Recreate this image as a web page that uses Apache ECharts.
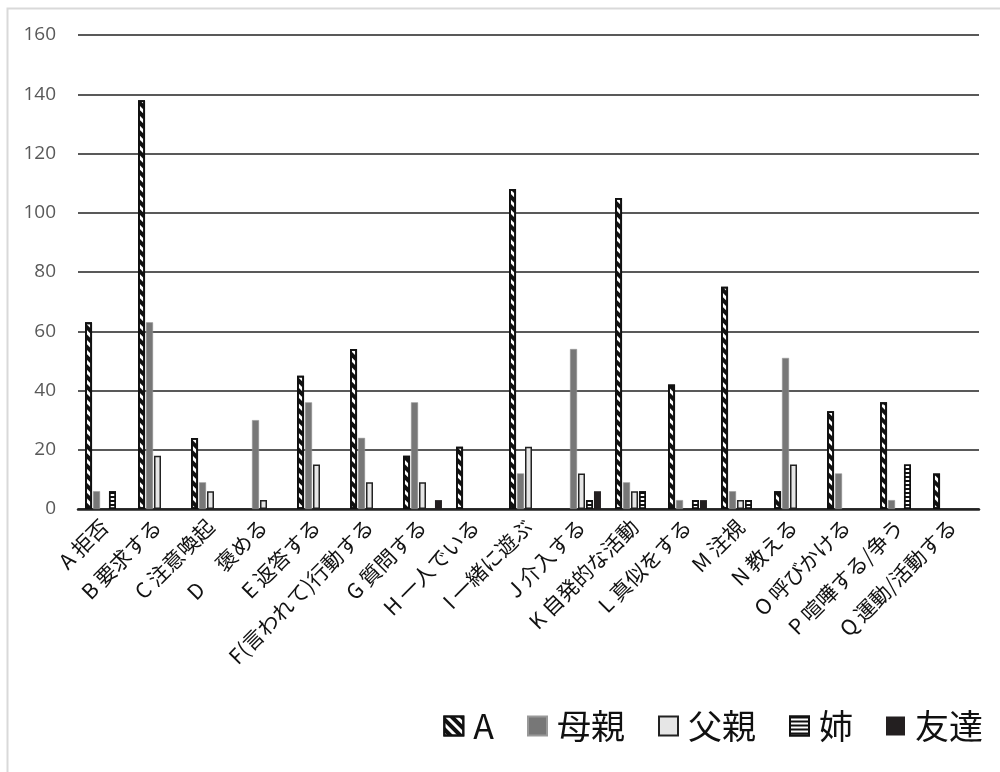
<!DOCTYPE html>
<html>
<head>
<meta charset="utf-8">
<script src="https://cdn.jsdelivr.net/npm/echarts@6/dist/echarts.min.js"></script>
<style>
  html, body { margin: 0; padding: 0; background: #fff; }
  #chart { width: 1000px; height: 772px; }
</style>
</head>
<body>
<div id="chart"></div>
<script>
// 行動カテゴリ
const categories = [
  'A 拒否', 'B 要求する', 'C 注意喚起', 'D　 褒める', 'E 返答する',
  'F(言われて)行動する', 'G 質問する', 'H 一人でいる', 'I 一緒に遊ぶ',
  'J 介入する', 'K 自発的な活動', 'L 真似をする', 'M 注視', 'N 教える',
  'O 呼びかける', 'P 喧嘩する/争う', 'Q 運動/活動する'
];

// 各人物の回数（0 は棒なし）
const aValues      = [63, 138, 24, 0, 45, 54, 18, 21, 108, 0, 105, 42, 75, 6, 33, 36, 12];
const motherValues = [6, 63, 9, 30, 36, 24, 36, 0, 12, 54, 9, 3, 6, 51, 12, 3, 0];
const fatherValues = [0, 18, 6, 3, 15, 9, 9, 0, 21, 12, 6, 0, 3, 15, 0, 0, 0];
const sisterValues = [6, 0, 0, 0, 0, 0, 0, 0, 0, 3, 6, 3, 3, 0, 0, 15, 0];
const friendValues = [0, 0, 0, 0, 0, 0, 3, 0, 0, 6, 0, 3, 0, 0, 0, 0, 0];

const yTicks = [0, 20, 40, 60, 80, 100, 120, 140, 160];

const seriesNames = ['A', '母親', '父親', '姉', '友達'];

const font = '"Noto Sans CJK JP", "Noto Sans", sans-serif';

function toBars (arr) {
  return arr.map(v => (v === 0 ? '-' : v));
}

const chart = echarts.init(document.getElementById('chart'));

chart.setOption({
  animation: false,
  backgroundColor: '#fff',
  graphic: [
    {
      type: 'rect',
      shape: { x: 7.5, y: 8.5, width: 1100, height: 900 },
      style: { fill: 'none', stroke: '#d9d9d9', lineWidth: 2 },
      silent: true
    }
  ],
  grid: { left: 78, right: 21, top: 35, bottom: 263 },
  legend: {
    right: 12,
    bottom: 24,
    icon: 'rect',
    itemWidth: 19,
    itemHeight: 19,
    itemGap: 33,
    textStyle: { fontSize: 34, color: '#111', fontFamily: font, padding: [0, 0, 0, 5] },
    data: seriesNames
  },
  xAxis: {
    type: 'category',
    data: categories,
    axisLine: { lineStyle: { color: '#222', width: 2.5 } },
    axisTick: { show: false },
    axisLabel: {
      interval: 0,
      rotate: 45,
      fontSize: 21,
      color: '#111',
      fontFamily: font,
      margin: 14
    }
  },
  yAxis: {
    type: 'value',
    min: yTicks[0],
    max: yTicks[yTicks.length - 1],
    interval: 20,
    axisLine: { show: false },
    axisTick: { show: false },
    axisLabel: { fontSize: 19, color: '#595959', fontFamily: '"Open Sans", sans-serif', margin: 22 },
    splitLine: { lineStyle: { color: '#222', width: 1.5 } }
  },
  series: [
    {
      name: 'A',
      type: 'bar',
      data: toBars(aValues),
      barWidth: 7,
      barGap: '14%',
      itemStyle: {
        color: '#fff',
        borderColor: '#111',
        borderWidth: 1.8,
        decal: {
          symbol: 'rect',
          symbolSize: 1,
          color: '#111',
          dashArrayX: [1, 0],
          dashArrayY: [3.5, 3],
          rotation: Math.PI / 4
        }
      }
    },
    {
      name: '母親',
      type: 'bar',
      data: toBars(motherValues),
      barWidth: 7,
      itemStyle: { color: '#777777', borderColor: '#999', borderWidth: 0.5 }
    },
    {
      name: '父親',
      type: 'bar',
      data: toBars(fatherValues),
      barWidth: 7,
      itemStyle: { color: '#e6e6e6', borderColor: '#222', borderWidth: 1.5 }
    },
    {
      name: '姉',
      type: 'bar',
      data: toBars(sisterValues),
      barWidth: 7,
      itemStyle: {
        color: '#fff',
        borderColor: '#111',
        borderWidth: 1.5,
        decal: {
          symbol: 'rect',
          symbolSize: 1,
          color: '#111',
          dashArrayX: [1, 0],
          dashArrayY: [1.2, 1.6],
          rotation: 0
        }
      }
    },
    {
      name: '友達',
      type: 'bar',
      data: toBars(friendValues),
      barWidth: 7,
      itemStyle: { color: '#231f20' }
    }
  ]
});
</script>
</body>
</html>
